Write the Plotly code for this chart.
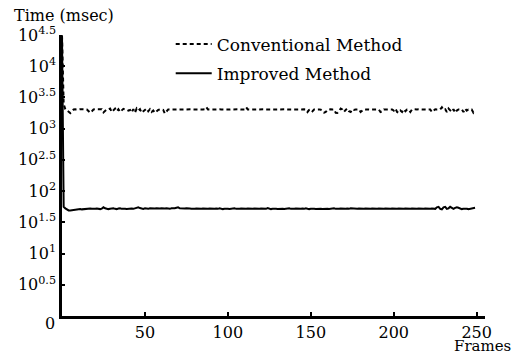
import plotly.graph_objects as go

frames = list(range(0, 250))

conventional = [
    31000, 2500, 2050, 1950, 1850, 1780, 1900, 2030, 2040, 2020,
    2030, 2050, 2030, 2020, 2040, 2030, 1900, 1800, 1900, 2030,
    2040, 2030, 2020, 2030, 2040, 1820, 1950, 2030, 2050, 2100,
    1850, 2000, 2100, 1900, 2050, 1850, 2000, 2080, 2030, 2020,
    1950, 2000, 1820, 2050, 1800, 2100, 1950, 2050, 1800, 1900,
    2000, 2100, 1900, 2050, 1850, 1950, 1800, 1900, 2000, 2030,
    2040, 2000, 1750, 1850, 2030, 2020, 2040, 2030, 2030, 2020,
    2040, 2030, 2020, 2030, 2040, 2030, 2020, 2030, 2040, 2030,
    2020, 2030, 2040, 2030, 2020, 2030, 2040, 2200, 2030, 2020,
    2030, 2040, 2030, 2020, 2030, 2040, 2030, 2020, 2030, 2040,
    2030, 2020, 2030, 2040, 2030, 2020, 2030, 2040, 2030, 2020,
    2030, 2200, 2030, 2020, 2040, 2030, 2020, 2030, 2040, 2030,
    2020, 2030, 2040, 2030, 2020, 2030, 2040, 2030, 2020, 2030,
    2040, 2030, 2020, 2030, 2040, 2030, 2020, 2030, 2040, 2030,
    2020, 2030, 2040, 2030, 2020, 2030, 2040, 2030, 1850, 2000,
    2050, 1900, 2030, 2020, 2040, 2030, 2020, 1850, 1800, 1850,
    2000, 2030, 2040, 2020, 2030, 1800, 1780, 1900, 2100, 2030,
    1850, 2000, 2100, 1900, 1850, 2050, 2000, 2030, 2020, 2040,
    1850, 1950, 2030, 2020, 2040, 2030, 2020, 2030, 2040, 2030,
    2020, 2030, 1850, 1900, 2030, 2040, 2020, 2030, 2040, 2030,
    1950, 2100, 1850, 1800, 1950, 1850, 2050, 1900, 2030, 2020,
    1850, 2030, 2040, 2020, 2030, 2040, 2030, 2020, 2030, 2040,
    2030, 2020, 2030, 1850, 1950, 2050, 2030, 2020, 2040, 2200,
    2000, 2050, 1850, 2100, 1950, 1850, 2050, 1800, 1950, 2030,
    2020, 2040, 1850, 2100, 1950, 2030, 2020, 2030, 1800, 1950,
]

improved = [
    31000, 56, 53, 50, 49, 49, 49.5, 50, 50.5, 51,
    51, 51.5, 51, 51.5, 52, 51.5, 52, 52.5, 52, 51.5,
    52, 52.5, 52, 51.5, 52.5, 55, 53, 52, 51.5, 52,
    52.5, 53, 52, 51.5, 52.5, 53, 52, 52.5, 52, 51.5,
    52, 53, 52.5, 52, 53, 54, 55, 53.5, 52.5, 52,
    53, 52.5, 52, 53, 52.5, 52, 52.5, 53, 52, 52.5,
    53, 52, 52.5, 53, 52.5, 52, 53, 52.5, 53, 54,
    55, 53, 52.5, 52, 52.5, 53, 52, 52.5, 52, 51.5,
    52, 52.5, 52, 51.5, 52, 52.5, 52, 51.5, 52, 52.5,
    52, 51.5, 52, 52.5, 52, 53, 52, 51.5, 52, 52.5,
    52, 51.5, 52, 52.5, 53, 52, 51.5, 52, 52.5, 52,
    51.5, 52, 52.5, 52, 51.5, 52, 52.5, 52, 51.5, 52,
    52.5, 52, 51.5, 52, 53.5, 52, 51.5, 52, 52.5, 52,
    51.5, 52, 52.5, 52, 51.5, 52, 52.5, 53, 52, 51.5,
    52, 52.5, 52, 51.5, 52, 52.5, 52, 53, 52, 51.5,
    52, 52.5, 52, 51.5, 52, 52.5, 52, 51.5, 52, 52.5,
    52, 51.5, 52, 52.5, 53, 52, 51.5, 52, 52.5, 52,
    51.5, 52, 52.5, 52, 53, 52.5, 52, 51.5, 52, 52.5,
    52, 51.5, 52, 52.5, 52, 51.5, 52, 52.5, 52, 51.5,
    52, 52.5, 52, 51.5, 52, 52.5, 52, 51.5, 52, 52.5,
    52, 51.5, 52, 52.5, 52, 51.5, 52, 52.5, 52, 51.5,
    52, 52.5, 52, 51.5, 52, 52.5, 52, 51.5, 52, 52.5,
    52, 51.5, 52, 52.5, 52, 52, 55, 56, 52, 51,
    55, 56, 52, 53, 56, 53, 52, 54, 55, 54,
    52, 51.5, 52, 52.5, 52, 51.5, 52, 52.5, 53, 54,
]
improved = improved[:len(frames)]

y_tickvals = [10**0.5, 10**1, 10**1.5, 10**2, 10**2.5, 10**3, 10**3.5, 10**4, 10**4.5]
y_ticktext = ["10<sup>0.5</sup>", "10<sup>1</sup>", "10<sup>1.5</sup>", "10<sup>2</sup>",
              "10<sup>2.5</sup>", "10<sup>3</sup>", "10<sup>3.5</sup>", "10<sup>4</sup>",
              "10<sup>4.5</sup>"]
x_tickvals = [50, 100, 150, 200, 250]

FONT = "DejaVu Serif"

fig = go.Figure()
fig.add_trace(go.Scatter(x=frames, y=conventional, mode="lines", name="Conventional Method",
                         line=dict(color="black", width=2, dash="4px,3px"),
                         legendgroup="a"))
fig.add_trace(go.Scatter(x=frames, y=improved, mode="lines", name="Improved Method",
                         line=dict(color="black", width=2), legendgroup="b"))

fig.update_layout(
    width=517, height=354,
    margin=dict(l=62, r=32, t=35, b=36),
    paper_bgcolor="white", plot_bgcolor="white",
    font=dict(family=FONT, size=16, color="black"),
    showlegend=True,
    legend=dict(x=0.257, y=1.03, xanchor="left", yanchor="top",
                bgcolor="rgba(0,0,0,0)", font=dict(size=17, family=FONT),
                tracegroupgap=4, itemwidth=36),
    xaxis=dict(range=[0, 255], tickvals=x_tickvals, showgrid=False, zeroline=False,
               showline=True, linecolor="black", linewidth=2.5,
               ticks="inside", ticklen=4, tickwidth=2, tickcolor="black",
               tickfont=dict(size=16, family=FONT)),
    yaxis=dict(type="log", range=[0, 4.5], tickvals=y_tickvals, ticktext=y_ticktext,
               showgrid=False, zeroline=False,
               showline=True, linecolor="black", linewidth=2.5,
               ticks="inside", ticklen=3, tickwidth=2, tickcolor="black",
               tickfont=dict(size=16, family=FONT)),
    annotations=[
        dict(text="Time (msec)", xref="paper", yref="paper", x=-0.118, y=1.07,
             xanchor="left", yanchor="middle", showarrow=False, font=dict(size=16, family=FONT)),
        dict(text="Frames", xref="paper", yref="paper", x=1.066, y=-0.108,
             xanchor="right", yanchor="middle", showarrow=False, font=dict(size=15, family=FONT)),
        dict(text="0", xref="paper", yref="paper", x=-0.028, y=-0.025,
             xanchor="center", yanchor="middle", showarrow=False, font=dict(size=16, family=FONT)),
    ],
)

fig.write_html("out.html", config={"displayModeBar": False},
               post_script="document.body.style.margin='0px';")
